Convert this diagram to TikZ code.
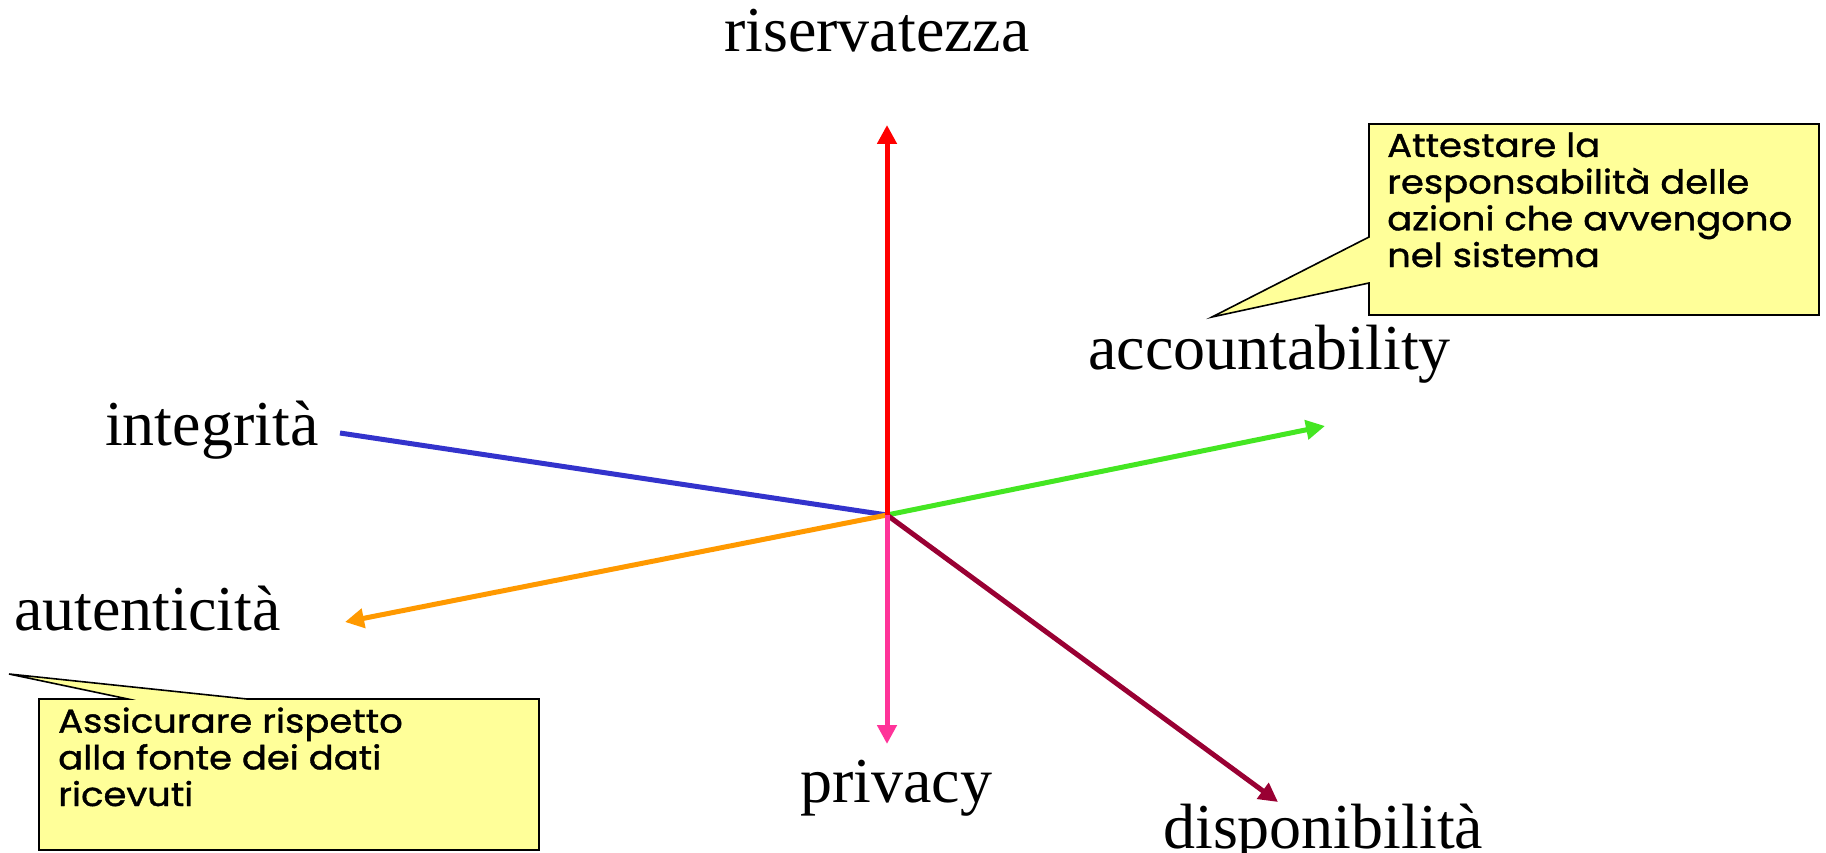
\documentclass[tikz,border=0pt]{standalone}
\usepackage{fontspec}
\setmainfont{Liberation Serif}
\newfontfamily\notefont[FakeStretch=1.12,FakeBold=1.2]{Poppins}
\usetikzlibrary{arrows.meta}

\definecolor{axisred}{RGB}{255,0,0}
\definecolor{axisblue}{RGB}{51,51,204}
\definecolor{axisgreen}{RGB}{68,230,34}
\definecolor{axisorange}{RGB}{255,153,0}
\definecolor{axispink}{RGB}{255,51,153}
\definecolor{axismaroon}{RGB}{153,0,51}
\definecolor{notefill}{RGB}{255,255,153}

\tikzset{
  axis/.style={line width=5pt, -{Triangle[length=19pt,width=19pt]}},
  plainaxis/.style={line width=5pt},
  label/.style={anchor=base west, inner sep=0pt, font=\fontsize{64}{72}\selectfont},
  callout/.style={draw=black, line width=1.6pt, fill=notefill, line join=miter},
  % base anchor of a multi-line node sits on the baseline of its last line
  notetext/.style={anchor=base west, inner sep=0pt, align=left,
    font=\notefont\fontsize{33}{36.7}\selectfont},
}

\begin{document}
\begin{tikzpicture}[x=1pt,y=-1pt]
  \useasboundingbox (0,0) rectangle (1826,853);

  % centre and axis ends
  \coordinate (O) at (887,515);
  \coordinate (riserv) at (887,125);
  \coordinate (integ) at (340,433);
  \coordinate (account) at (1325,426);
  \coordinate (autent) at (345,622);
  \coordinate (priv) at (887,744);
  \coordinate (dispon) at (1278,802);

  % axis labels
  \node[label] (lriserv) at (724,52) {riservatezza};
  \node[label] (linteg) at (105,445) {integrità};
  \node[label] (laccount) at (1088,369) {accountability};
  \node[label] (lautent) at (14,630) {autenticità};
  \node[label] (lpriv) at (800,802) {privacy};
  \node[label] (ldispon) at (1163,848) {disponibilità};

  % axes
  \draw[plainaxis, axisblue] (O) -- (integ);
  \draw[axis, axisgreen] (O) -- (account);
  \draw[axis, axisorange] (O) -- (autent);
  \draw[axis, axismaroon] (O) -- (dispon);
  \draw[axis, axispink] (O) -- (priv);
  \draw[axis, axisred] (O) -- (riserv);

  % callout on accountability
  \coordinate (tipA) at (1212,317);
  \draw[callout] (1369,124) -- (1819,124) -- (1819,315) -- (1369,315)
    -- (1369,283) -- (tipA) -- (1369,237) -- cycle;
  \node[notetext] (noteA) at (1387,267)
    {Attestare la\\responsabilità delle\\azioni che avvengono\\nel sistema};

  % callout on autenticità
  \coordinate (tipB) at (9,674);
  \draw[callout] (39,699) -- (128,699) -- (tipB) -- (247,699) -- (539,699)
    -- (539,850) -- (39,850) -- cycle;
  \node[notetext] (noteB) at (58,806)
    {Assicurare rispetto\\alla fonte dei dati\\ricevuti};
\end{tikzpicture}
\end{document}
